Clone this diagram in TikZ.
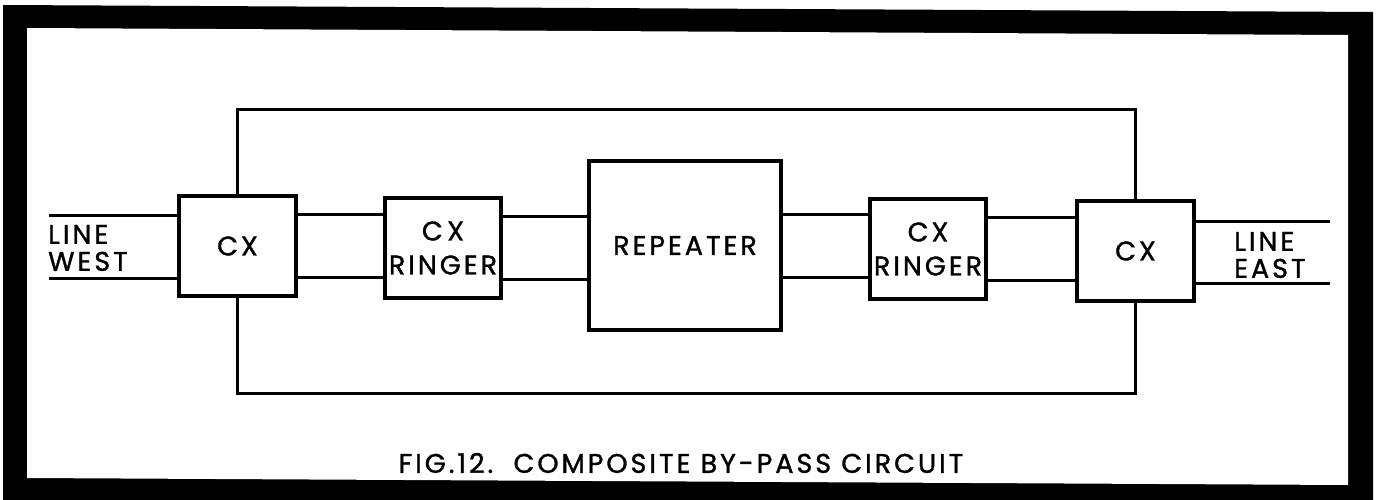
\documentclass[tikz,border=0pt]{standalone}
\usepackage{fontspec}
\setmainfont{Poppins}[LetterSpace=11,FakeBold=1.2]
\usetikzlibrary{positioning}

\begin{document}
\begin{tikzpicture}[x=1pt,y=-1pt,
  blk/.style={draw,line width=3.5pt,inner sep=0pt,align=center,
    font=\fontsize{27}{34}\selectfont},
  wire/.style={line width=3pt},
  lbl/.style={inner sep=0pt,align=left,font=\fontsize{27}{27}\selectfont}]
\useasboundingbox (0,0) rectangle (1382,500);
% frame
\fill[black] (3,5) -- (1373,12) -- (1373,500) -- (3,500) -- cycle;
\fill[white] (27,28) -- (1348,35) -- (1348,485) -- (27,478) -- cycle;
% boxes
\node[blk,minimum width=117,minimum height=100] (cxw) at (237.5,246) {CX};
\node[blk,minimum width=116,minimum height=100] (rgw) at (443,248) {C\,X\\RINGER};
\node[blk,minimum width=192,minimum height=169] (rep) at (685,245.5) {REPEATER};
\node[blk,minimum width=116,minimum height=100] (rge) at (928,249) {CX\\RINGER};
\node[blk,minimum width=117,minimum height=100] (cxe) at (1135.5,251) {CX};
% line ends
\coordinate (w1) at (49,215);
\coordinate (w2) at (49,278);
\coordinate (e1) at (1330,221);
\coordinate (e2) at (1330,283);
\node[lbl,anchor=west] (lw) at (48,248) {LINE\\WEST};
\node[lbl,anchor=west] (le) at (1234,255) {LINE\\EAST};
% pairs
\draw[wire] (w1) -- (w1 -| cxw.west);
\draw[wire] (w2) -- (w2 -| cxw.west);
\draw[wire] (e1) -- (e1 -| cxe.east);
\draw[wire] (e2) -- (e2 -| cxe.east);
\foreach \a/\b in {cxw/rgw,rgw/rep,rep/rge,rge/cxe}{
  \draw[wire] ([yshift=31.5]\a.east) -- ([yshift=31.5]\a.east -| \b.west);
  \draw[wire] ([yshift=-31.5]\a.east) -- ([yshift=-31.5]\a.east -| \b.west);
}
% by-pass
\draw[wire] (cxw.north) -- (cxw.north |- 0,110) -| (cxe.north);
\draw[wire] (cxw.south) -- (cxw.south |- 0,393) -| (cxe.south);
\node[font=\fontsize{27}{28}\selectfont] (cap) at (681,463) {FIG.12.\ \ COMPOSITE BY-PASS CIRCUIT};
\end{tikzpicture}
\end{document}
